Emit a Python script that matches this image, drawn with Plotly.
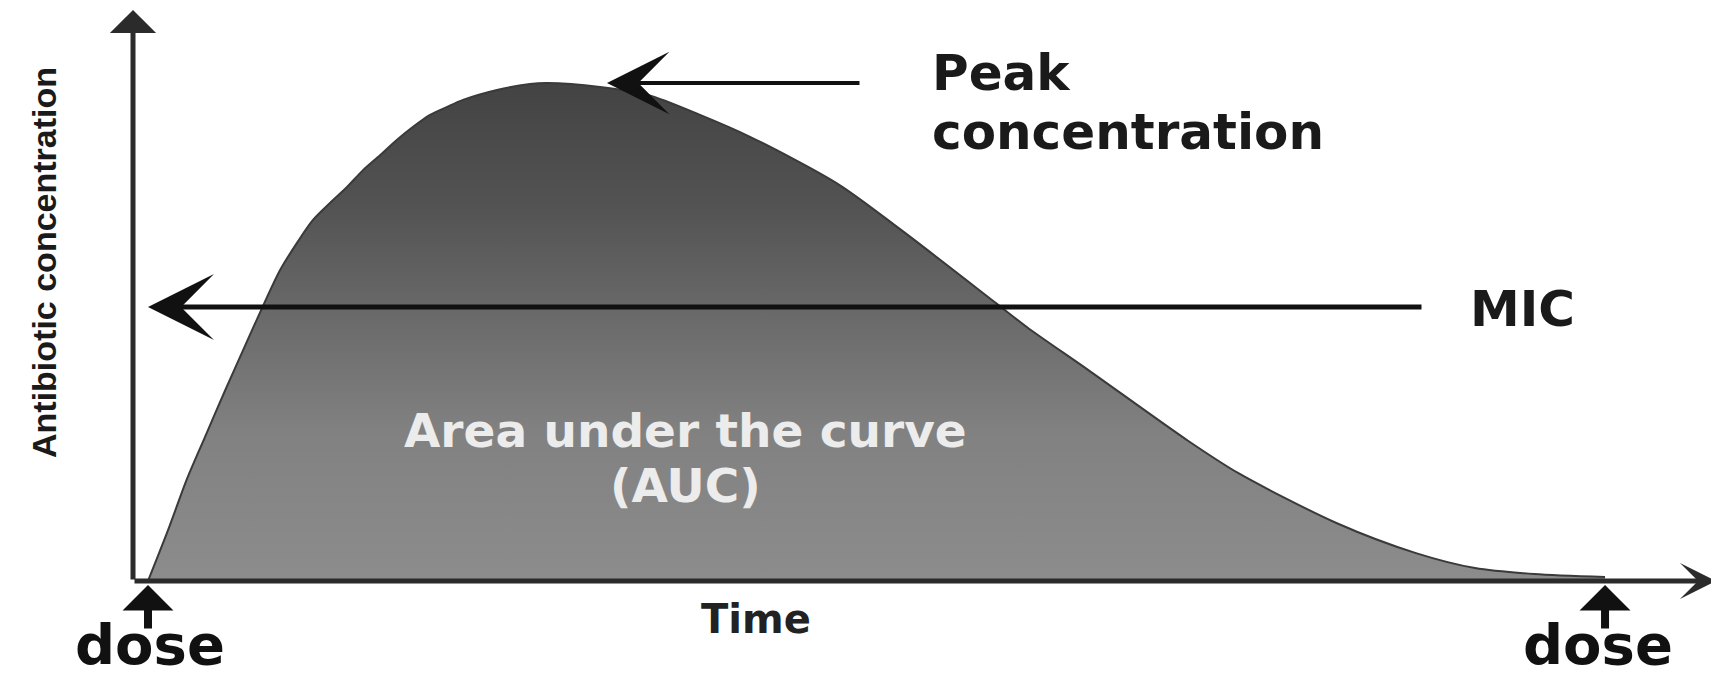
import plotly.graph_objects as go

# ---- data ----
time_h = [0.000, 0.165, 0.321, 0.469, 0.634, 0.799, 0.939, 1.087, 1.227, 1.359, 1.499,
          1.639, 1.771, 1.911, 2.051, 2.183, 2.323, 2.463, 2.594, 2.874, 3.146, 3.286,
          3.723, 4.118, 4.546, 4.958, 5.683, 6.202, 6.984, 7.248, 7.742, 8.557, 8.977,
          9.792, 10.443, 10.929, 11.415, 12.000]
concentration = [0.00, 1.02, 2.05, 2.89, 3.82, 4.72, 5.48, 6.24, 6.79, 7.25, 7.59,
                 7.91, 8.25, 8.55, 8.86, 9.12, 9.36, 9.52, 9.66, 9.86, 9.98, 10.00,
                 9.92, 9.76, 9.36, 8.92, 7.97, 7.05, 5.58, 5.08, 4.24, 2.83, 2.17,
                 1.16, 0.56, 0.26, 0.14, 0.08]
mic_value = 5.5
dose_times = [0, 12]

y_title = "Antibiotic concentration"
x_title = "Time"
peak_label = ["Peak", "concentration"]
mic_label = "MIC"
auc_label = ["Area under the curve", "(AUC)"]
dose_label = "dose"

# ---- layout geometry (pixels of the target picture) ----
W, H = 1719, 679
OFF = 8  # page body margin that shifts the figure inside the window
X0_PX, PX_PER_H = 148, 121.42
Y0_PX, PX_PER_C = 581, 49.8


def t_of(px):
    return (px - X0_PX) / PX_PER_H


def c_of(py):
    return (Y0_PX - py) / PX_PER_C


def px_x(px):
    return (px - OFF) / W


def px_y(py):
    return 1 - (py - OFF) / H


peak_c = max(concentration)

fig = go.Figure()

fig.add_trace(go.Scatter(
    x=time_h, y=concentration, mode="lines",
    line=dict(color="#3a3a3a", width=2, shape="spline", smoothing=0.8),
    fill="tozeroy",
    fillgradient=dict(type="vertical",
                      colorscale=[[0.0, "#8c8c8c"], [0.3, "#818181"], [0.55, "#686868"],
                                  [0.75, "#535353"], [1.0, "#434343"]]),
    hoverinfo="skip", showlegend=False,
))

ann = []
# axes drawn as arrows
axis_x = t_of(133)
ann.append(dict(x=axis_x, y=c_of(10), ax=axis_x, ay=0, xref="x", yref="y", axref="x", ayref="y",
                showarrow=True, arrowhead=1, arrowsize=1.54, arrowwidth=5, arrowcolor="#2b2b2b", text=""))
ann.append(dict(x=t_of(1716), y=0, ax=axis_x, ay=0, xref="x", yref="y", axref="x", ayref="y",
                showarrow=True, arrowhead=3, arrowsize=1.2, arrowwidth=5, arrowcolor="#2b2b2b", text=""))
# MIC arrow
ann.append(dict(x=0, y=mic_value, ax=t_of(1423), ay=mic_value, xref="x", yref="y", axref="x", ayref="y",
                showarrow=True, arrowhead=3, arrowsize=2.2, arrowwidth=5, arrowcolor="#111111", text=""))
# Peak arrow
ann.append(dict(x=t_of(607), y=peak_c, ax=t_of(861), ay=peak_c, xref="x", yref="y", axref="x", ayref="y",
                showarrow=True, arrowhead=3, arrowsize=2.6, arrowwidth=4, arrowcolor="#111111", text=""))
# dose arrows
for dt in dose_times:
    ann.append(dict(x=dt, y=c_of(585), ax=dt, ay=c_of(630), xref="x", yref="y", axref="x", ayref="y",
                    showarrow=True, arrowhead=1, arrowsize=1.06, arrowwidth=8, arrowcolor="#111111", text=""))

bold = "DejaVu Sans"


def text_ann(txt, x, y, size, color="#1a1a1a", xanchor="center", family=bold, angle=0, align="center"):
    return dict(text=txt, x=px_x(x), y=px_y(y), xref="paper", yref="paper",
                showarrow=False, xanchor=xanchor, yanchor="middle", textangle=angle, align=align,
                font=dict(family=family, size=size, color=color, weight="bold"))


def big_lines(lines, px):
    return "<br>".join('<span style="font-size:%dpx">%s</span>' % (px, s) for s in lines)


# line spacing is set by the base font size, glyph size by the spans
ann.append(text_ann(big_lines(peak_label, 50), 930, 103, 45, xanchor="left", align="left"))
ann.append(text_ann(mic_label, 1468, 309, 50, xanchor="left"))
ann.append(text_ann(big_lines(auc_label, 47), 685, 458, 42.3, color="#ececec"))
ann.append(text_ann(x_title, 756, 619, 40, color="#222222"))
ann.append(text_ann(dose_label, 150, 644, 56, color="#111111"))
ann.append(text_ann(dose_label, 1598, 644, 56, color="#111111"))
ann.append(text_ann(y_title, 44, 263, 34, color="#1a1a1a", family="Liberation Sans", angle=-90))

fig.update_layout(
    width=W, height=H, margin=dict(l=0, r=0, t=0, b=0),
    paper_bgcolor="white", plot_bgcolor="white",
    xaxis=dict(range=[t_of(OFF), t_of(OFF + W)], visible=False, fixedrange=True),
    yaxis=dict(range=[c_of(OFF + H), c_of(OFF)], visible=False, fixedrange=True),
    annotations=ann, showlegend=False,
)

fig.write_html("out.html")
